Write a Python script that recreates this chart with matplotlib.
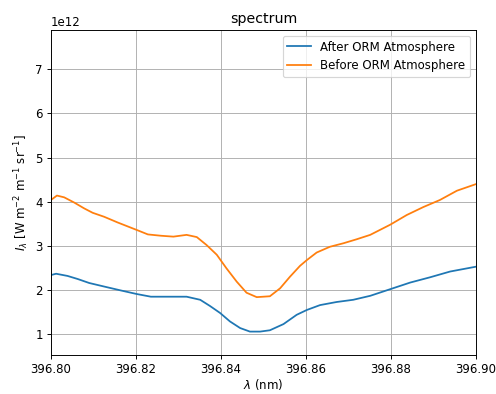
import numpy as np
import matplotlib
matplotlib.use("Agg")
import matplotlib.pyplot as plt

# wavelengths (nm) and intensities (units of 1e12)
wl_before = [396.8000, 396.8014, 396.8031, 396.8055, 396.8078, 396.8098, 396.8125, 396.8157,
             396.8202, 396.8228, 396.8259, 396.8288, 396.8319, 396.8343, 396.8366, 396.8390,
             396.8413, 396.8437, 396.8460, 396.8484, 396.8515, 396.8539, 396.8562, 396.8586,
             396.8602, 396.8625, 396.8656, 396.8688, 396.8719, 396.8751, 396.8798, 396.8837,
             396.8876, 396.8915, 396.8955, 396.9000]
before = [4.04, 4.14, 4.10, 3.98, 3.85, 3.75, 3.66, 3.53,
          3.36, 3.26, 3.23, 3.21, 3.25, 3.20, 3.02, 2.80,
          2.49, 2.19, 1.94, 1.84, 1.86, 2.04, 2.30, 2.55,
          2.68, 2.85, 2.98, 3.06, 3.15, 3.25, 3.48, 3.70,
          3.88, 4.04, 4.25, 4.40]

wl_after = [396.8000, 396.8012, 396.8039, 396.8063, 396.8090, 396.8125, 396.8165, 396.8202,
            396.8235, 396.8259, 396.8319, 396.8351, 396.8374, 396.8398, 396.8421, 396.8445,
            396.8468, 396.8492, 396.8515, 396.8547, 396.8578, 396.8602, 396.8633, 396.8672,
            396.8711, 396.8751, 396.8798, 396.8845, 396.8892, 396.8939, 396.9000]
after = [2.34, 2.37, 2.32, 2.25, 2.16, 2.08, 1.99, 1.91,
         1.85, 1.85, 1.85, 1.78, 1.64, 1.48, 1.29, 1.14,
         1.06, 1.06, 1.09, 1.23, 1.44, 1.55, 1.66, 1.73,
         1.78, 1.87, 2.02, 2.17, 2.29, 2.42, 2.53]

dpi = 85
fig = plt.figure(figsize=(496 / dpi, 394 / dpi), dpi=dpi)
ax = fig.add_axes([0.1028, 0.099, 0.857, 0.825])

ax.plot(wl_after, np.array(after) * 1e12, color='#1f77b4', label='After ORM Atmosphere')
ax.plot(wl_before, np.array(before) * 1e12, color='#ff7f0e', label='Before ORM Atmosphere')

ax.set_xlim(396.80, 396.90)
ax.set_ylim(0.53e12, 7.89e12)
ax.set_xticks([396.80, 396.82, 396.84, 396.86, 396.88, 396.90])
ax.xaxis.set_major_formatter(matplotlib.ticker.FormatStrFormatter('%.2f'))
ax.grid(True)
ax.set_title('spectrum')
ax.set_xlabel(r'$\lambda$ (nm)', labelpad=1)
ax.set_ylabel(r'$I_\lambda$ [W m$^{-2}$ m$^{-1}$ sr$^{-1}$]')
ax.legend(loc='upper right')

fig.savefig('out.png', dpi=dpi)
